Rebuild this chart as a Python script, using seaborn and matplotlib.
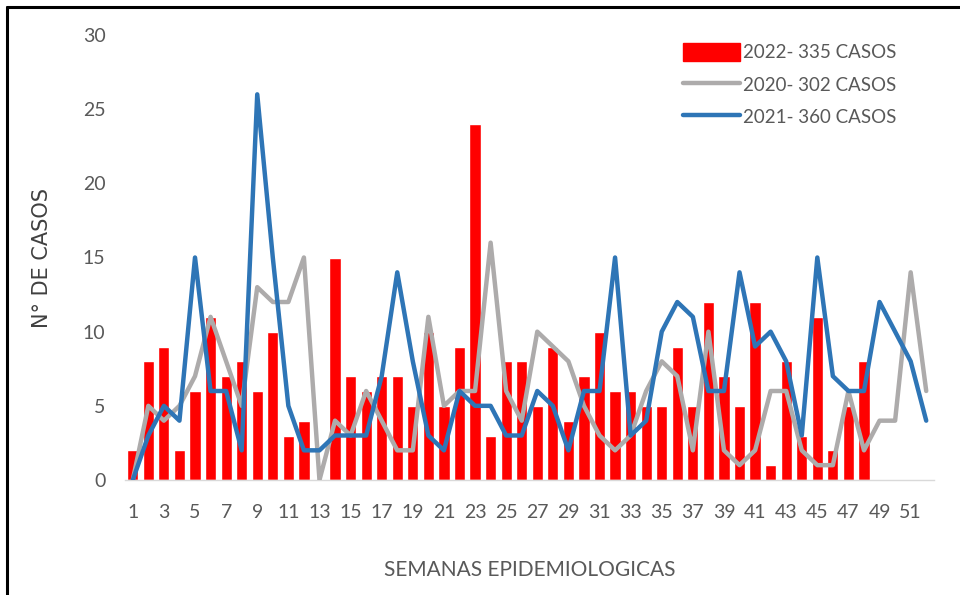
import matplotlib
matplotlib.use("Agg")
import matplotlib.pyplot as plt
import seaborn as sns
import numpy as np
import pandas as pd
from matplotlib.lines import Line2D
from matplotlib.patches import Patch

weeks_2022 = list(range(1, 49))
cases_2022 = [2, 8, 9, 2, 6, 11, 7, 8, 6, 10,
              3, 4, 0, 15, 7, 6, 7, 7, 5, 10,
              5, 9, 24, 3, 8, 8, 5, 9, 4, 7,
              10, 6, 6, 5, 5, 9, 5, 12, 7, 5,
              12, 1, 8, 3, 11, 2, 5, 8]

weeks_all = list(range(1, 53))
cases_2020 = [0, 5, 4, 5, 7, 11, 8, 5, 13, 12,
              12, 15, 0, 4, 3, 6, 4, 2, 2, 11,
              5, 6, 6, 16, 6, 4, 10, 9, 8, 5,
              3, 2, 3, 6, 8, 7, 2, 10, 2, 1,
              2, 6, 6, 2, 1, 1, 6, 2, 4, 4,
              14, 6]
cases_2021 = [0, 3, 5, 4, 15, 6, 6, 2, 26, 15,
              5, 2, 2, 3, 3, 3, 7, 14, 8, 3,
              2, 6, 5, 5, 3, 3, 6, 5, 2, 6,
              6, 15, 3, 4, 10, 12, 11, 6, 6, 14,
              9, 10, 8, 3, 15, 7, 6, 6, 12, 10,
              8, 4]

labels = ["2022- 335 CASOS", "2020- 302 CASOS", "2021- 360 CASOS"]
xticks = list(range(1, 53, 2))
yticks = [0, 5, 10, 15, 20, 25, 30]

sns.set_theme(style="white")
plt.rcParams['font.family'] = ['Lato', 'DejaVu Sans']

RED = "#FF0000"
GRAY = "#ADABAB"
BLUE = "#2E75B6"
TXT = "#595959"

fig = plt.figure(figsize=(9.6, 5.95), dpi=100)
ax = fig.add_axes([125/960, 1 - 480/595, (934 - 125)/960, (480 - 35)/595])

df22 = pd.DataFrame({"week": weeks_2022, "cases": cases_2022})
sns.barplot(data=df22, x="week", y="cases", native_scale=True, color=RED,
            saturation=1, width=0.72, ax=ax, zorder=2)
sns.lineplot(x=weeks_all, y=cases_2020, color=GRAY, linewidth=3.2, ax=ax, zorder=3)
sns.lineplot(x=weeks_all, y=cases_2021, color=BLUE, linewidth=3.2, ax=ax, zorder=4)

ax.set_xlim(0.5, 52.5)
ax.set_ylim(0, 30)
ax.set_xticks(xticks)
ax.set_xticklabels([str(t) for t in xticks])
ax.set_yticks(yticks)
ax.set_yticklabels([str(t) for t in yticks])
ax.tick_params(axis='x', length=0, pad=17, labelsize=14, labelcolor=TXT)
ax.tick_params(axis='y', length=0, pad=14, labelsize=14, labelcolor=TXT)
for s in ["left", "right", "top"]:
    ax.spines[s].set_visible(False)
ax.spines["bottom"].set_color("#D9D9D9")
ax.spines["bottom"].set_linewidth(1)
ax.grid(False)

ax.set_xlabel("SEMANAS EPIDEMIOLOGICAS", fontsize=15, color=TXT, labelpad=28)
ax.set_ylabel("N° DE CASOS", fontsize=15, color="#404040", labelpad=22,
              family=['DejaVu Sans'])

handles = [Patch(facecolor=RED, edgecolor=RED),
           Line2D([0], [0], color=GRAY, linewidth=3.2),
           Line2D([0], [0], color=BLUE, linewidth=3.2)]
leg = ax.legend(handles, labels, loc="upper left", bbox_to_anchor=(0.69, 0.982),
                frameon=False, fontsize=13.5, handlelength=3.05, handleheight=1.1,
                handletextpad=0.12, labelspacing=0.74, labelcolor=TXT,
                borderpad=0, borderaxespad=0)

fig.add_artist(Line2D([7/960, 7/960], [0, 1 - 7/595], color="black", linewidth=2.2,
                      transform=fig.transFigure))
fig.add_artist(Line2D([7/960, 1], [1 - 7/595, 1 - 7/595], color="black", linewidth=2.2,
                      transform=fig.transFigure))

fig.savefig("out.png", dpi=100)
